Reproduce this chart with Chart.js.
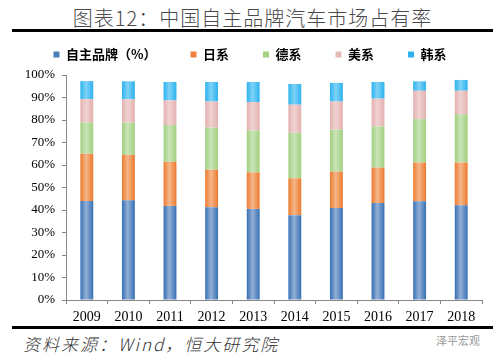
<!DOCTYPE html>
<html>
<head>
<meta charset="utf-8">
<script src="https://cdn.jsdelivr.net/npm/chart.js@4"></script>
<style>
  body { margin: 0; width: 500px; height: 361px; background: #fff; position: relative; overflow: hidden; }
  #title { position: absolute; top: 3px; left: 0; width: 505px; text-align: center; font-family: "Noto Sans CJK SC"; font-size: 20px; letter-spacing: 1px; color: #4a4a4a; font-weight: 300; }
  .rule { position: absolute; left: 12px; width: 481px; height: 3px; background: #000; }
  #source { position: absolute; top: 331px; left: 23px; font-family: "Noto Sans CJK SC"; font-style: italic; font-size: 17px; letter-spacing: 2px; color: #333; font-weight: 300; }
  #mark { position: absolute; top: 332px; left: 436px; font-family: "Noto Sans CJK SC"; font-size: 11px; color: #999; }
  #wrap { position: absolute; left: 0; top: 14px; width: 500px; height: 312px; }
</style>
</head>
<body>
<div id="title">图表12：中国自主品牌汽车市场占有率</div>
<div class="rule" style="top:29px"></div>
<div id="wrap"><canvas id="chart" width="500" height="312"></canvas></div>
<div class="rule" style="top:326px"></div>
<div id="source">资料来源：Wind，恒大研究院</div>
<div id="mark">泽平宏观</div>
<script>
// market share, %
const years = ['2009', '2010', '2011', '2012', '2013', '2014', '2015', '2016', '2017', '2018'];
const domestic = [44.0, 44.3, 41.8, 41.2, 40.5, 37.7, 40.9, 43.1, 43.9, 42.1];
const japanese = [21.0, 20.2, 19.6, 16.7, 16.2, 16.4, 16.1, 15.7, 17.2, 19.0];
const german = [14.0, 14.4, 16.4, 18.7, 18.7, 20.2, 18.7, 18.4, 19.3, 21.5];
const american = [10.3, 10.3, 10.9, 11.6, 12.6, 12.5, 12.5, 12.3, 12.6, 10.4];
const korean = [8.0, 8.0, 8.2, 8.7, 8.9, 9.2, 8.3, 7.4, 4.2, 4.8];
const yTicks = [0, 10, 20, 30, 40, 50, 60, 70, 80, 90, 100];

const BAR_PCT = 0.31;

// edge colour, centre colour, legend colour
const palette = {
    domestic: ['#3670b4', '#93afd6', '#4a7ebb'],
    japanese: ['#ec7a2e', '#f6b68a', '#f0823d'],
    german: ['#a2cf80', '#c9e4b6', '#a5d27f'],
    american: ['#e2b1b0', '#f0d2d1', '#e6b9b8'],
    korean: ['#2db2ef', '#7fd2f6', '#2fb3f0']
};

// horizontal shading across each bar, like the original
function shade(cols) {
    return (c) => {
        const chart = c.chart;
        const xs = chart.scales.x;
        if (!chart.chartArea || !xs || c.dataIndex === undefined) return cols[2];
        const cx = xs.getPixelForValue(c.dataIndex);
        const w = xs.width / years.length * BAR_PCT;
        const g = chart.ctx.createLinearGradient(cx - w / 2, 0, cx + w / 2, 0);
        g.addColorStop(0, cols[0]);
        g.addColorStop(0.45, cols[1]);
        g.addColorStop(1, cols[0]);
        return g;
    };
}

function makeSet(label, data, cols) {
    return {
        label: label,
        data: data,
        backgroundColor: shade(cols),
        legendColor: cols[2],
        borderWidth: 0,
        barPercentage: BAR_PCT,
        categoryPercentage: 1
    };
}

// a little more room between the legend and the plot
const legendGap = {
    id: 'legendGap',
    beforeLayout(chart) {
        const lg = chart.legend;
        if (!lg || lg._gapped) return;
        const fit = lg.fit;
        lg.fit = function () {
            fit.call(this);
            this.height += 4;
        };
        lg._gapped = true;
    }
};

const axisColor = '#868686';

new Chart(document.getElementById('chart'), {
    type: 'bar',
    data: {
        labels: years,
        datasets: [
            makeSet('自主品牌（%）', domestic, palette.domestic),
            makeSet('日系', japanese, palette.japanese),
            makeSet('德系', german, palette.german),
            makeSet('美系', american, palette.american),
            makeSet('韩系', korean, palette.korean)
        ]
    },
    plugins: [legendGap],
    options: {
        responsive: false,
        animation: false,
        layout: { padding: { left: 18, right: 18, top: 0, bottom: 0 } },
        plugins: {
            tooltip: { enabled: false },
            legend: {
                position: 'top',
                labels: {
                    boxWidth: 6,
                    boxHeight: 6,
                    padding: 34,
                    color: '#000',
                    font: { family: 'Noto Sans CJK SC', size: 13, weight: 'bold' },
                    generateLabels: (chart) => chart.data.datasets.map((ds, i) => ({
                        text: ds.label,
                        fillStyle: ds.legendColor,
                        strokeStyle: ds.legendColor,
                        lineWidth: 0,
                        hidden: false,
                        datasetIndex: i
                    }))
                }
            }
        },
        scales: {
            x: {
                stacked: true,
                border: { color: axisColor, width: 1 },
                grid: { display: true, drawOnChartArea: false, drawTicks: true, tickLength: 4, color: axisColor, offset: true },
                ticks: { color: '#000', padding: 5, font: { family: 'Liberation Serif', size: 14 }, maxRotation: 0 },
                afterFit: (s) => { s.height = 26; }
            },
            y: {
                stacked: true,
                min: 0,
                max: 100,
                border: { color: axisColor, width: 1 },
                grid: { display: true, drawOnChartArea: false, drawTicks: true, tickLength: 4, color: axisColor },
                afterBuildTicks: (s) => { s.ticks = yTicks.map(v => ({ value: v })); },
                ticks: {
                    color: '#000',
                    padding: 7,
                    font: { family: 'Liberation Serif', size: 13 },
                    callback: (v) => v + '%'
                },
                afterFit: (s) => { s.width = 48; }
            }
        }
    }
});
</script>
</body>
</html>
